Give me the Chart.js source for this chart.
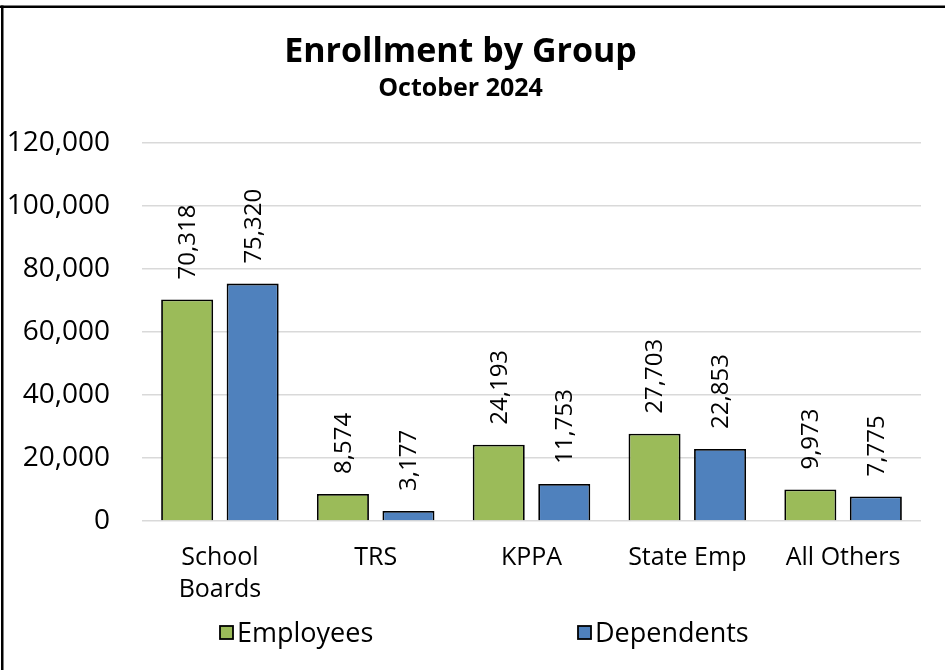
<!DOCTYPE html>
<html>
<head>
<meta charset="utf-8">
<title>Enrollment by Group</title>
<script src="https://cdn.jsdelivr.net/npm/chart.js@4.4.1/dist/chart.umd.min.js"></script>
<style>
  html, body { margin: 0; padding: 0; background: #fff; }
  canvas { display: block; }
</style>
</head>
<body>
<canvas id="enrollChart" width="945" height="670"></canvas>
<script>
// data
const categories = [['School', 'Boards'], 'TRS', 'KPPA', 'State Emp', 'All Others'];
const employees = [70318, 8574, 24193, 27703, 9973];
const dependents = [75320, 3177, 11753, 22853, 7775];
const yMin = 0;
const yMax = 120000;
const yStep = 20000;

const FONT = '"Open Sans", Lato, "Noto Sans", sans-serif';
const GREEN = '#9BBB59';
const BLUE = '#4F81BD';

// frame: only top and left edge are visible in the picture
const framePlugin = {
    id: 'frame',
    beforeDraw(chart) {
        const ctx = chart.ctx;
        ctx.save();
        ctx.fillStyle = '#fff';
        ctx.fillRect(0, 0, chart.width, chart.height);
        ctx.fillStyle = '#000';
        ctx.fillRect(0, 5.5, chart.width, 2.5);
        ctx.fillRect(1, 5.5, 2.5, chart.height);
        ctx.restore();
    }
};

// rotated value labels above each bar
const valueLabels = {
    id: 'valueLabels',
    afterDatasetsDraw(chart) {
        const ctx = chart.ctx;
        ctx.save();
        ctx.font = '24px ' + FONT;
        ctx.fillStyle = '#000';
        ctx.textAlign = 'left';
        ctx.textBaseline = 'middle';
        chart.data.datasets.forEach(function(ds, i) {
            const meta = chart.getDatasetMeta(i);
            meta.data.forEach(function(bar, j) {
                ctx.save();
                ctx.translate(bar.x, bar.y - 20);
                ctx.rotate(-Math.PI / 2);
                ctx.fillText(ds.data[j].toLocaleString('en-US'), 0, 1);
                ctx.restore();
            });
        });
        ctx.restore();
    }
};

// legend spread out like the original
const wideLegend = {
    id: 'wideLegend',
    afterDraw(chart) {
        const ctx = chart.ctx;
        const xs = [220, 578];
        const y = 633;
        ctx.save();
        ctx.font = '27px ' + FONT;
        ctx.textAlign = 'left';
        ctx.textBaseline = 'middle';
        chart.data.datasets.forEach(function(ds, i) {
            ctx.fillStyle = ds.backgroundColor;
            ctx.fillRect(xs[i], y - 7, 13, 13);
            ctx.strokeStyle = '#000';
            ctx.lineWidth = 1.8;
            ctx.strokeRect(xs[i], y - 7, 13, 13);
            ctx.fillStyle = '#000';
            ctx.fillText(ds.label, xs[i] + 17, y + 1);
        });
        ctx.restore();
    }
};

function drawChart() {
    const ctx = document.getElementById('enrollChart');
    new Chart(ctx, {
        type: 'bar',
        data: {
            labels: categories,
            datasets: [{
                label: 'Employees',
                data: employees,
                backgroundColor: GREEN,
                borderColor: '#000',
                borderWidth: 1.8
            }, {
                label: 'Dependents',
                data: dependents,
                backgroundColor: BLUE,
                borderColor: '#000',
                borderWidth: 1.8
            }]
        },
        options: {
            responsive: false,
            animation: false,
            devicePixelRatio: 1,
            categoryPercentage: 0.841,
            barPercentage: 0.794,
            layout: {
                padding: { top: 2, left: 0, right: 24, bottom: 0 }
            },
            plugins: {
                legend: { display: false },
                tooltip: { enabled: false },
                title: {
                    display: true,
                    text: 'Enrollment by Group',
                    color: '#000',
                    font: { family: FONT, size: 34, weight: 'bold', lineHeight: 1.2 },
                    padding: { top: 30, bottom: 0 }
                },
                subtitle: {
                    display: true,
                    text: 'October 2024',
                    color: '#000',
                    font: { family: FONT, size: 25, weight: 'bold', lineHeight: 1.2 },
                    padding: { top: 1, bottom: 39 }
                }
            },
            scales: {
                x: {
                    grid: { display: false, drawTicks: false },
                    border: { display: false },
                    ticks: {
                        color: '#000',
                        font: { family: FONT, size: 25, lineHeight: 1.28 },
                        padding: 21,
                        maxRotation: 0,
                        autoSkip: false
                    },
                    afterFit(scale) { scale.height = 149; }
                },
                y: {
                    min: yMin,
                    max: yMax,
                    grid: { color: '#d9d9d9', lineWidth: 1.5, drawTicks: false },
                    border: { display: false },
                    ticks: {
                        stepSize: yStep,
                        color: '#000',
                        font: { family: FONT, size: 28 },
                        padding: 32,
                        callback: function(v) { return v.toLocaleString('en-US'); }
                    },
                    afterFit(scale) { scale.width = 142; }
                }
            }
        },
        plugins: [framePlugin, valueLabels, wideLegend]
    });
}

if (document.fonts && document.fonts.load) {
    Promise.all([
        document.fonts.load('bold 32px "Open Sans"'),
        document.fonts.load('24px "Open Sans"')
    ]).then(drawChart, drawChart);
} else {
    drawChart();
}
</script>
</body>
</html>
